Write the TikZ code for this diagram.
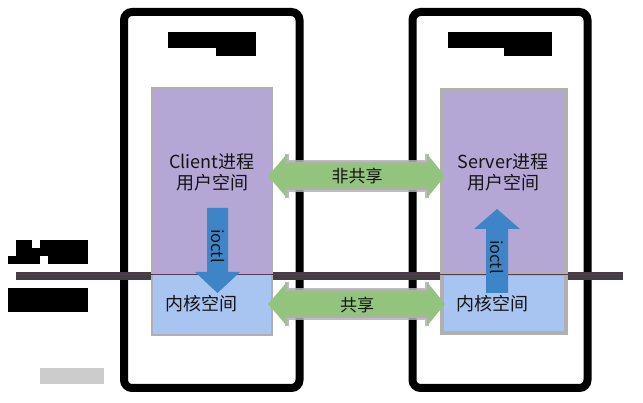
\documentclass[tikz,border=0pt]{standalone}
\usepackage{fontspec}
\setmainfont{Noto Sans CJK SC}
\definecolor{userfill}{HTML}{B4A7D6}
\definecolor{kernfill}{HTML}{A8C4F0}
\definecolor{boxline}{HTML}{B0B0B0}
\definecolor{greenfill}{HTML}{93C47D}
\definecolor{bluearrow}{HTML}{3D85C6}
\definecolor{barcol}{HTML}{404040}
\definecolor{thinline}{HTML}{5C3A55}
\definecolor{txt}{HTML}{141414}
\tikzset{
  phone/.style={draw=black, line width=8pt, rounded corners=8pt},
  redact/.style={fill=black},
  spacebox/.style={draw=boxline, inner sep=0pt, outer sep=0pt},
  lbl/.style={text=txt, font=\fontsize{18}{21}\selectfont, align=center, inner sep=0pt},
  arrlbl/.style={text=txt, font=\fontsize{17}{20}\selectfont, inner sep=0pt},
  ioctllbl/.style={text=txt, font=\fontsize{16.5}{20}\selectfont, inner sep=0pt, rotate=-90},
  greenarrow/.style={fill=greenfill},
  greyedge/.style={draw=boxline, line width=4pt, opacity=0.85},
  bluearr/.style={fill=bluearrow}
}
\begin{document}
\begin{tikzpicture}[x=1pt,y=-1pt]
\useasboundingbox (0,0) rectangle (643,403);
% phones
\draw[phone] (124,12) rectangle (299.5,388);
\draw[phone] (412.5,12) rectangle (587.5,388);
% redaction blocks
\fill[redact] (168,32) rectangle (256,48);
\fill[redact] (216,48) rectangle (256,56);
\fill[redact] (448,32) rectangle (552,48);
\fill[redact] (504,48) rectangle (552,56);
\fill[redact] (16,240) rectangle (32,256);
\fill[redact] (32,248) rectangle (88,256);
\fill[redact] (40,240) rectangle (88,248);
\fill[redact] (8,256) rectangle (40,264);
\fill[redact] (48,256) rectangle (88,264);
\fill[redact] (8,288) rectangle (88,312);
\fill[black!20] (40,368) rectangle (104,384);
% separator bar
\fill[barcol] (16,272) rectangle (623,280);
% boxes
\node[spacebox, fill=userfill, line width=2pt, minimum width=120pt, minimum height=186pt] (cu) at (212,181) {};
\node[spacebox, fill=kernfill, line width=2pt, minimum width=120pt, minimum height=61pt] (ck) at (212,304.5) {};
\node[spacebox, fill=userfill, line width=4pt, minimum width=124pt, minimum height=184pt] (su) at (504,182) {};
\node[spacebox, fill=kernfill, line width=4pt, minimum width=124pt, minimum height=59pt] (sk) at (504,303.5) {};
% thin line
\draw[thinline, line width=0.8pt] (16,274) -- (623,274);
% labels
\node[lbl] (cul) at (212,172) {Client进程\\用户空间};
\node[lbl] (sul) at (503,172) {Server进程\\用户空间};
\node[lbl] (ckl) at (201,304) {内核空间};
\node[lbl] (skl) at (492,304) {内核空间};
% green double arrows
\fill[greenarrow] (268,176) -- (287,154) -- (287,162) -- (427,162) -- (427,154) -- (445,176) -- (427,198) -- (427,190) -- (287,190) -- (287,198) -- cycle;
\draw[greyedge] (287,154) -- (287,162) -- (427,162) -- (427,154);
\draw[greyedge] (287,198) -- (287,190) -- (427,190) -- (427,198);
\node[arrlbl] (ns) at (357,176) {非共享};
\fill[greenarrow] (268,304) -- (287,282) -- (287,290) -- (427,290) -- (427,282) -- (445,304) -- (427,326) -- (427,318) -- (287,318) -- (287,326) -- cycle;
\draw[greyedge] (287,282) -- (287,290) -- (427,290) -- (427,282);
\draw[greyedge] (287,326) -- (287,318) -- (427,318) -- (427,326);
\node[arrlbl] (sh) at (357,305) {共享};
% ioctl arrows
\fill[bluearr] (207,208) -- (228,208) -- (228,272) -- (240,272) -- (217.5,293) -- (195,272) -- (207,272) -- cycle;
\node[ioctllbl] (io1) at (217.5,246) {ioctl};
\fill[bluearr] (486,293) -- (508,293) -- (508,229) -- (520,229) -- (497,209) -- (474,229) -- (486,229) -- cycle;
\node[ioctllbl] (io2) at (497,257) {ioctl};
\end{tikzpicture}
\end{document}
